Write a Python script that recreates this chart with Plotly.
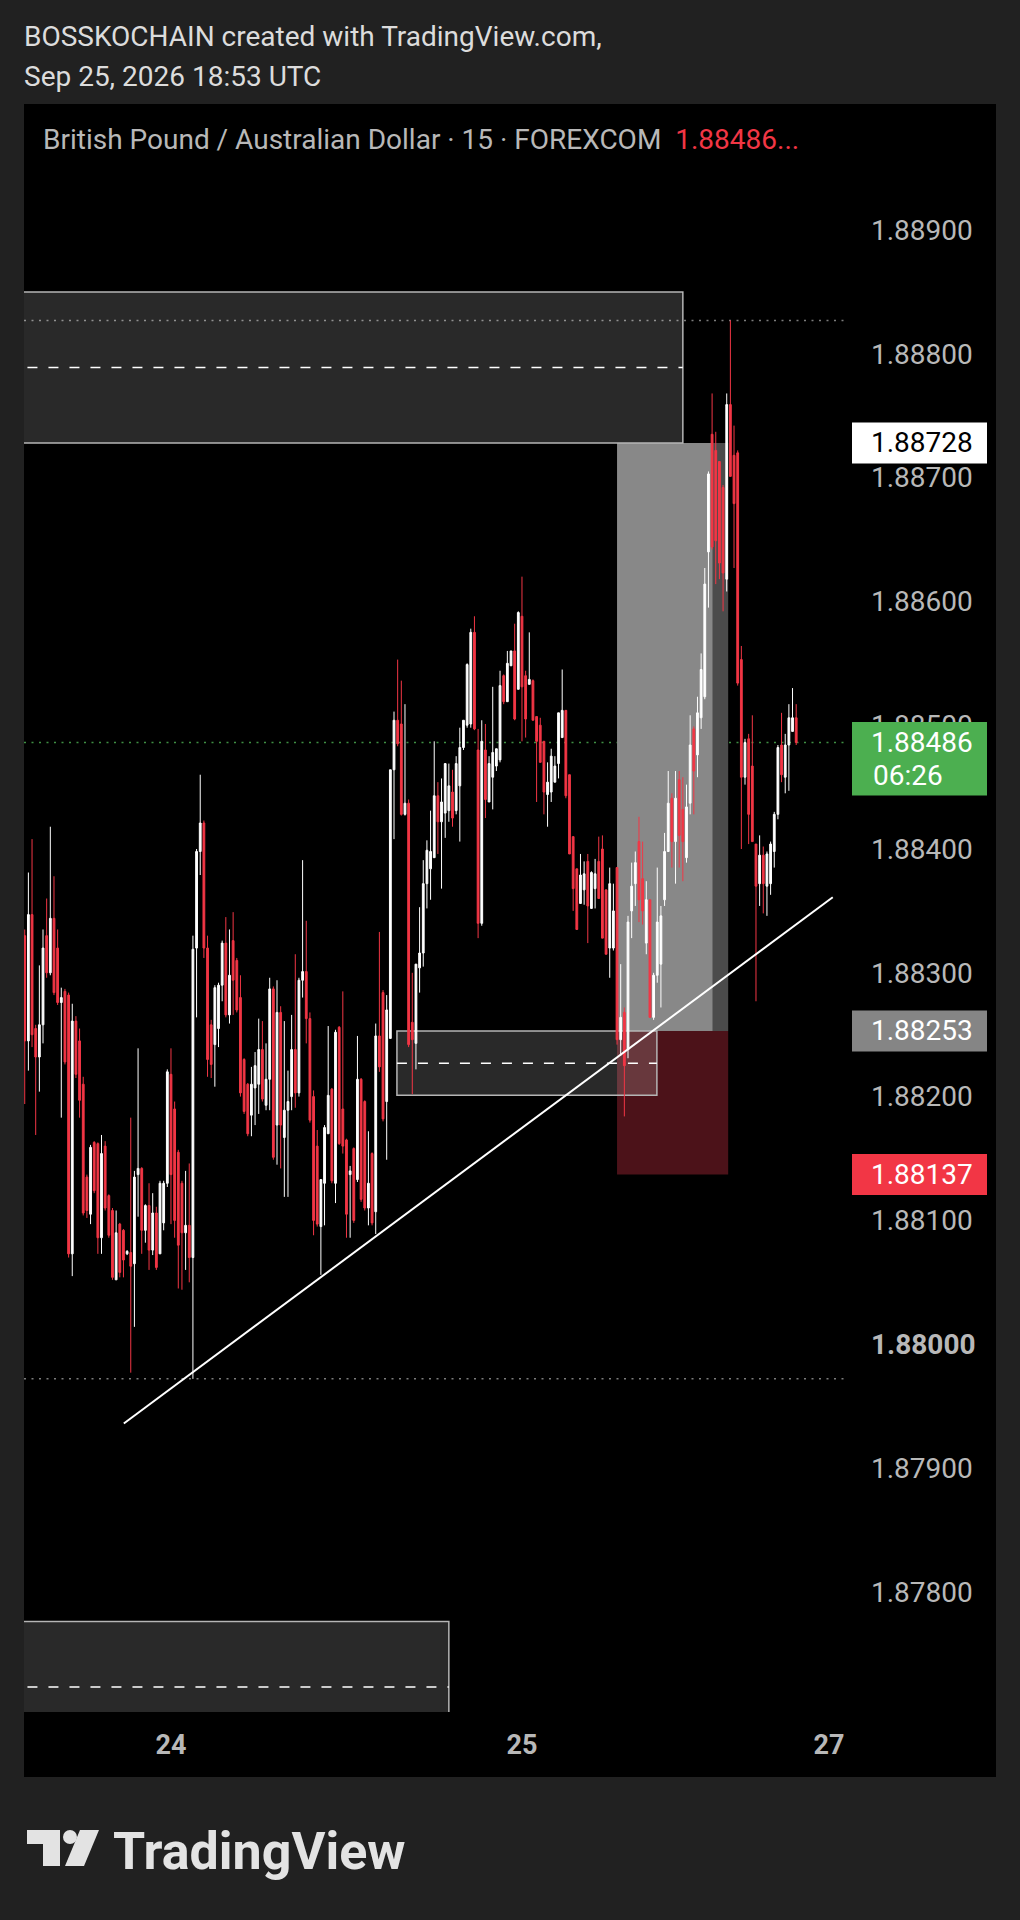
import plotly.graph_objects as go

# ---------------- data (GBP/AUD, 15-minute bars) ----------------
# bar number: 0 = Sep 24 00:00 UTC, 96 = Sep 25 00:00 UTC
bar_index = list(range(-40, 172))

open_prices = [
    1.88330,1.88245,1.88347,1.88255,1.88232,1.88258,1.88330,1.88300,1.88344,1.88320,
    1.88276,1.88285,1.88282,1.88073,1.88261,1.88245,1.88210,1.88135,1.88105,1.88163,
    1.88162,1.88086,1.88160,1.88120,1.88108,1.88052,1.88097,1.88092,1.88073,1.88074,
    1.88065,1.88137,1.88142,1.88092,1.88112,1.88076,1.88106,1.88073,1.88098,1.88130,
    1.88218,1.88190,1.88155,1.88130,1.88090,1.88096,1.88070,1.88320,1.88398,1.88421,
    1.88320,1.88258,1.88242,1.88255,1.88290,1.88324,1.88266,1.88326,1.88310,1.88280,
    1.88230,1.88210,1.88185,1.88207,1.88210,1.88238,1.88193,1.88214,1.88287,1.88177,
    1.88268,1.88167,1.88189,1.88200,1.88238,1.88203,1.88294,1.88301,1.88263,1.88200,
    1.88160,1.88095,1.88130,1.88170,1.88206,1.88130,1.88256,1.88190,1.88165,1.88137,
    1.88158,1.88133,1.88214,1.88196,1.88110,1.88154,1.88107,1.88249,1.88284,1.88196,
    1.88247,1.88464,1.88504,1.88501,1.88428,1.88437,1.88260,1.88243,1.88304,1.88316,
    1.88372,1.88384,1.88393,1.88443,1.88422,1.88429,1.88431,1.88446,1.88431,1.88451,
    1.88482,1.88500,1.88501,1.88575,1.88480,1.88340,1.88480,1.88438,1.88458,1.88467,
    1.88472,1.88540,1.88519,1.88548,1.88560,1.88529,1.88588,1.88540,1.88533,1.88536,
    1.88507,1.88500,1.88487,1.88444,1.88446,1.88454,1.88469,1.88490,1.88512,1.88460,
    1.88410,1.88384,1.88356,1.88367,1.88390,1.88352,1.88368,1.88390,1.88400,1.88367,
    1.88320,1.88320,1.88385,1.88246,1.88268,1.88238,1.88350,1.88372,1.88406,1.88376,
    1.88324,1.88359,1.88264,1.88298,1.88307,1.88359,1.88398,1.88441,1.88406,1.88456,
    1.88432,1.88393,1.88437,1.88497,1.88476,1.88506,1.88523,1.88640,1.88735,1.88722,
    1.88713,1.88692,1.88618,1.88759,1.88718,1.88720,1.88553,1.88458,1.88489,1.88467,
    1.88404,1.88372,1.88395,1.88370,1.88372,1.88398,1.88428,1.88484,1.88458,1.88484,
    1.88495,1.88506,
]
high_prices = [
    1.88335,1.88381,1.88408,1.88258,1.88306,1.88335,1.88360,1.88418,1.88378,1.88335,
    1.88288,1.88287,1.88284,1.88275,1.88265,1.88255,1.88216,1.88137,1.88161,1.88164,
    1.88163,1.88169,1.88164,1.88121,1.88110,1.88108,1.88098,1.88093,1.88076,1.88183,
    1.88140,1.88239,1.88143,1.88113,1.88130,1.88122,1.88111,1.88132,1.88132,1.88222,
    1.88239,1.88196,1.88157,1.88132,1.88140,1.88146,1.88330,1.88400,1.88460,1.88423,
    1.88330,1.88262,1.88290,1.88292,1.88326,1.88345,1.88335,1.88349,1.88312,1.88298,
    1.88231,1.88211,1.88224,1.88236,1.88263,1.88261,1.88243,1.88296,1.88289,1.88294,
    1.88273,1.88261,1.88221,1.88266,1.88315,1.88296,1.88391,1.88342,1.88268,1.88205,
    1.88173,1.88133,1.88177,1.88257,1.88207,1.88254,1.88257,1.88285,1.88166,1.88144,
    1.88159,1.88249,1.88215,1.88197,1.88172,1.88155,1.88259,1.88333,1.88286,1.88282,
    1.88464,1.88511,1.88553,1.88536,1.88517,1.88440,1.88300,1.88307,1.88353,1.88391,
    1.88407,1.88431,1.88487,1.88454,1.88457,1.88469,1.88469,1.88464,1.88475,1.88498,
    1.88504,1.88550,1.88578,1.88588,1.88497,1.88504,1.88501,1.88475,1.88531,1.88481,
    1.88544,1.88541,1.88560,1.88560,1.88582,1.88592,1.88620,1.88544,1.88575,1.88537,
    1.88507,1.88506,1.88487,1.88470,1.88481,1.88475,1.88510,1.88545,1.88512,1.88460,
    1.88410,1.88384,1.88396,1.88390,1.88396,1.88382,1.88392,1.88410,1.88411,1.88367,
    1.88385,1.88372,1.88385,1.88307,1.88272,1.88346,1.88389,1.88398,1.88426,1.88406,
    1.88374,1.88359,1.88300,1.88385,1.88354,1.88413,1.88463,1.88445,1.88463,1.88463,
    1.88458,1.88452,1.88508,1.88499,1.88523,1.88558,1.88627,1.88705,1.88768,1.88737,
    1.88713,1.88694,1.88768,1.88827,1.88742,1.88722,1.88564,1.88489,1.88493,1.88508,
    1.88404,1.88411,1.88402,1.88398,1.88406,1.88430,1.88484,1.88510,1.88493,1.88517,
    1.88530,1.88517,
]
low_prices = [
    1.88194,1.88221,1.88240,1.88169,1.88204,1.88243,1.88296,1.88298,1.88282,1.88274,
    1.88183,1.88226,1.88070,1.88055,1.88215,1.88183,1.88104,1.88102,1.88097,1.88122,
    1.88073,1.88073,1.88108,1.88086,1.88052,1.88052,1.88054,1.88054,1.88072,1.87977,
    1.88014,1.88103,1.88073,1.88082,1.88060,1.88072,1.88060,1.88073,1.88092,1.88127,
    1.88097,1.88086,1.88045,1.88044,1.88060,1.88050,1.87972,1.88264,1.88379,1.88312,
    1.88216,1.88215,1.88208,1.88240,1.88277,1.88264,1.88259,1.88266,1.88268,1.88200,
    1.88186,1.88168,1.88168,1.88177,1.88186,1.88196,1.88189,1.88189,1.88149,1.88145,
    1.88142,1.88119,1.88119,1.88189,1.88191,1.88200,1.88280,1.88243,1.88179,1.88088,
    1.88095,1.88056,1.88096,1.88170,1.88130,1.88114,1.88161,1.88154,1.88086,1.88086,
    1.88098,1.88131,1.88115,1.88108,1.88096,1.88096,1.88089,1.88220,1.88180,1.88149,
    1.88247,1.88408,1.88483,1.88427,1.88427,1.88240,1.88202,1.88222,1.88284,1.88305,
    1.88352,1.88359,1.88393,1.88396,1.88368,1.88409,1.88422,1.88418,1.88428,1.88406,
    1.88480,1.88498,1.88498,1.88496,1.88328,1.88338,1.88425,1.88438,1.88432,1.88463,
    1.88470,1.88517,1.88519,1.88548,1.88504,1.88529,1.88487,1.88490,1.88533,1.88504,
    1.88438,1.88470,1.88428,1.88418,1.88438,1.88454,1.88457,1.88490,1.88441,1.88396,
    1.88350,1.88335,1.88356,1.88355,1.88324,1.88352,1.88352,1.88360,1.88328,1.88315,
    1.88296,1.88318,1.88242,1.88233,1.88184,1.88231,1.88328,1.88354,1.88341,1.88339,
    1.88315,1.88264,1.88262,1.88292,1.88272,1.88354,1.88398,1.88385,1.88372,1.88385,
    1.88374,1.88389,1.88428,1.88428,1.88458,1.88497,1.88521,1.88595,1.88642,1.88614,
    1.88618,1.88592,1.88608,1.88701,1.88627,1.88532,1.88400,1.88452,1.88404,1.88406,
    1.88277,1.88354,1.88348,1.88346,1.88363,1.88385,1.88424,1.88454,1.88445,1.88447,
    1.88495,1.88484,
]
close_prices = [
    1.88245,1.88347,1.88250,1.88232,1.88258,1.88320,1.88300,1.88344,1.88284,1.88276,
    1.88280,1.88228,1.88073,1.88261,1.88218,1.88197,1.88106,1.88108,1.88159,1.88124,
    1.88086,1.88154,1.88110,1.88088,1.88054,1.88090,1.88058,1.88068,1.88075,1.88063,
    1.88135,1.88142,1.88092,1.88112,1.88076,1.88106,1.88062,1.88130,1.88130,1.88220,
    1.88137,1.88100,1.88080,1.88090,1.88096,1.88070,1.88319,1.88398,1.88421,1.88320,
    1.88230,1.88226,1.88288,1.88290,1.88324,1.88266,1.88298,1.88294,1.88270,1.88203,
    1.88188,1.88170,1.88210,1.88225,1.88238,1.88198,1.88214,1.88287,1.88151,1.88268,
    1.88177,1.88189,1.88196,1.88238,1.88203,1.88294,1.88301,1.88263,1.88181,1.88100,
    1.88097,1.88133,1.88175,1.88201,1.88132,1.88252,1.88162,1.88160,1.88105,1.88140,
    1.88100,1.88214,1.88117,1.88110,1.88130,1.88098,1.88249,1.88224,1.88182,1.88270,
    1.88464,1.88504,1.88485,1.88428,1.88437,1.88242,1.88246,1.88307,1.88316,1.88372,
    1.88399,1.88398,1.88443,1.88422,1.88438,1.88469,1.88451,1.88425,1.88469,1.88482,
    1.88504,1.88549,1.88575,1.88497,1.88340,1.88487,1.88440,1.88469,1.88478,1.88481,
    1.88532,1.88519,1.88550,1.88560,1.88505,1.88591,1.88531,1.88505,1.88537,1.88504,
    1.88487,1.88470,1.88446,1.88454,1.88475,1.88467,1.88510,1.88512,1.88443,1.88396,
    1.88368,1.88335,1.88379,1.88380,1.88354,1.88381,1.88380,1.88360,1.88328,1.88315,
    1.88372,1.88350,1.88246,1.88264,1.88225,1.88341,1.88370,1.88389,1.88359,1.88350,
    1.88359,1.88264,1.88298,1.88341,1.88346,1.88398,1.88437,1.88406,1.88441,1.88411,
    1.88406,1.88434,1.88484,1.88463,1.88510,1.88545,1.88614,1.88703,1.88644,1.88649,
    1.88631,1.88623,1.88759,1.88701,1.88679,1.88534,1.88458,1.88486,1.88428,1.88406,
    1.88370,1.88395,1.88372,1.88396,1.88404,1.88428,1.88482,1.88460,1.88484,1.88506,
    1.88506,1.88486,
]

time_tick_bars = [0, 96, 180]
time_tick_labels = ["24", "25", "27"]

price_ticks = [1.878, 1.879, 1.880, 1.881, 1.882, 1.883, 1.884, 1.885, 1.886, 1.887, 1.888, 1.889]
price_tick_labels = ["1.87800", "1.87900", "<b>1.88000</b>", "1.88100", "1.88200", "1.88300",
                     "1.88400", "1.88500", "1.88600", "1.88700", "1.88800", "1.88900"]

# drawings (bar number, price)
trend_bars = [-12.9, 181.0]
trend_prices = [1.87936, 1.88361]

upper_zone_bars = [-45, 140.0]
upper_zone_prices = [1.88728, 1.88850, 1.88789]      # bottom, top, midline
mid_zone_bars = [61.8, 132.9]
mid_zone_prices = [1.88201, 1.88253, 1.88227]
lower_zone_bars = [-45, 76.0]
lower_zone_prices = [1.87670, 1.87776, 1.87723]

position_bars = [122.0, 148.2, 152.4]                # start, target hit, end
position_entry, position_target, position_stop = 1.88253, 1.88728, 1.88137
countdown = "06:26"

# ---------------- styling ----------------
W, H = 1020, 1920
ML, MR, MT, MB = 24, 175, 104, 208
PW, PH = W - ML - MR, H - MT - MB
FONT = "Roboto"
UP, DOWN = "#ffffff", "#f23645"
BG = "#212121"


def px(x):
    return (x - ML) / PW


def py(y):
    return (H - MB - y) / PH


fig = go.Figure()
fig.add_trace(go.Candlestick(
    x=bar_index, open=open_prices, high=high_prices, low=low_prices, close=close_prices,
    increasing=dict(line=dict(color=UP, width=1), fillcolor=UP),
    decreasing=dict(line=dict(color=DOWN, width=1), fillcolor=DOWN),
    whiskerwidth=0, showlegend=False, hoverinfo="skip",
))

shapes = []
# chart panel
shapes.append(dict(type="rect", xref="paper", yref="paper", x0=px(24), x1=px(996),
                   y0=py(1777), y1=py(104), fillcolor="#000000", line=dict(width=0), layer="below"))
# long position tool
shapes.append(dict(type="rect", xref="x", yref="y", x0=position_bars[0], x1=position_bars[1],
                   y0=position_entry, y1=position_target, fillcolor="#888888", line=dict(width=0), layer="below"))
shapes.append(dict(type="rect", xref="x", yref="y", x0=position_bars[1], x1=position_bars[2],
                   y0=position_entry, y1=position_target, fillcolor="#4b4b4b", line=dict(width=0), layer="below"))
shapes.append(dict(type="rect", xref="x", yref="y", x0=position_bars[0], x1=position_bars[2],
                   y0=position_stop, y1=position_entry, fillcolor="#4c1219", line=dict(width=0), layer="below"))
# rectangles with dashed midline
for bars, prices in [(upper_zone_bars, upper_zone_prices), (mid_zone_bars, mid_zone_prices),
                     (lower_zone_bars, lower_zone_prices)]:
    shapes.append(dict(type="rect", xref="x", yref="y", x0=bars[0], x1=bars[1], y0=prices[0], y1=prices[1],
                       fillcolor="rgba(255,255,255,0.16)", line=dict(color="#b5b5b5", width=1.5), layer="below"))
    shapes.append(dict(type="line", xref="x", yref="y", x0=bars[0], x1=bars[1], y0=prices[2], y1=prices[2],
                       line=dict(color="#ffffff", width=1.5, dash="10px,11px"), layer="below"))
# high / low / last price lines
for level, col in [(max(high_prices), "#7c7c7c"), (min(low_prices), "#7c7c7c"), (close_prices[-1], "#3f8f43")]:
    shapes.append(dict(type="line", xref="x domain", yref="y", x0=0, x1=1, y0=level, y1=level,
                       line=dict(color=col, width=1.5, dash="2px,5.5px"), layer="below"))
# trend line
shapes.append(dict(type="line", xref="x", yref="y", x0=trend_bars[0], x1=trend_bars[1],
                   y0=trend_prices[0], y1=trend_prices[1], line=dict(color="#ffffff", width=2), layer="above"))

# price-axis labels
axis_labels = [
    (position_target, "#ffffff", "#000000", 20.5, -20.5),
    (close_prices[-1], "#4caf50", "#ffffff", 20.5, -53.0),
    (position_entry, "#858585", "#ffffff", 20.5, -20.5),
    (position_stop, "#f23645", "#ffffff", 20.5, -20.5),
]
annotations = []
for val, bg, fg, top, bot in axis_labels:
    shapes.append(dict(type="rect", xref="paper", yref="y", ysizemode="pixel", yanchor=val,
                       x0=px(852), x1=px(987), y0=bot, y1=top, fillcolor=bg, line=dict(width=0), layer="above"))
    annotations.append(dict(text=f"{val:.5f}", xref="paper", yref="y", x=px(975), y=val,
                            xanchor="right", yanchor="middle", showarrow=False,
                            font=dict(family=FONT, size=28, color=fg)))
annotations.append(dict(text=countdown, xref="paper", yref="y", x=px(871), y=close_prices[-1], yshift=-33,
                        xanchor="left", yanchor="middle", showarrow=False,
                        font=dict(family=FONT, size=28, color="#ffffff")))

# header texts
annotations.append(dict(text="BOSSKOCHAIN created with TradingView.com,", xref="paper", yref="paper",
                        x=px(22), y=py(37), xanchor="left", yanchor="middle", showarrow=False,
                        font=dict(family=FONT, size=28, color="#dcdcdc")))
annotations.append(dict(text="Sep 25, 2026 18:53 UTC", xref="paper", yref="paper",
                        x=px(22), y=py(77), xanchor="left", yanchor="middle", showarrow=False,
                        font=dict(family=FONT, size=28, color="#dcdcdc")))
annotations.append(dict(
    text=("British Pound / Australian Dollar · 15 · FOREXCOM  "
          f"<span style='color:#f23645'>{close_prices[-1]:.5f}...</span>"),
    xref="paper", yref="paper", x=px(41), y=py(139), xanchor="left", yanchor="middle", showarrow=False,
    font=dict(family=FONT, size=28, color="#b8b8b8")))

# TradingView logo
LOGO = "#e3e3e3"
shapes.append(dict(type="rect", xref="paper", yref="paper", x0=px(27), x1=px(60), y0=py(1844), y1=py(1830),
                   fillcolor=LOGO, line=dict(width=0), layer="above"))
shapes.append(dict(type="rect", xref="paper", yref="paper", x0=px(43), x1=px(60), y0=py(1866), y1=py(1830),
                   fillcolor=LOGO, line=dict(width=0), layer="above"))
shapes.append(dict(type="circle", xref="paper", yref="paper", x0=px(63), x1=px(77), y0=py(1844), y1=py(1830),
                   fillcolor=LOGO, line=dict(width=0), layer="above"))
shapes.append(dict(type="path", xref="paper", yref="paper",
                   path=(f"M {px(80)},{py(1830)} L {px(99)},{py(1830)} "
                         f"L {px(84)},{py(1866)} L {px(65)},{py(1866)} Z"),
                   fillcolor=LOGO, line=dict(width=0), layer="above"))
annotations.append(dict(text="<b>TradingView</b>", xref="paper", yref="paper", x=px(111), y=py(1851),
                        xanchor="left", yanchor="middle", showarrow=False,
                        font=dict(family=FONT, size=52, color=LOGO)))

fig.update_layout(
    width=W, height=H,
    margin=dict(l=ML, r=MR, t=MT, b=MB, pad=0),
    paper_bgcolor=BG, plot_bgcolor="#000000",
    showlegend=False,
    boxgap=0.3,
    xaxis=dict(range=[-40.2, 184.35], rangeslider=dict(visible=False), showgrid=False, zeroline=False,
               showline=False, ticks="", tickvals=time_tick_bars, ticktext=time_tick_labels,
               tickfont=dict(family=FONT, size=27, color="#b8b8b8", weight=700), ticklabelstandoff=14,
               fixedrange=True),
    yaxis=dict(range=[1.877029, 1.890018], side="right", showgrid=False, zeroline=False, showline=False,
               ticks="", tickvals=price_ticks, ticktext=price_tick_labels,
               tickfont=dict(family=FONT, size=28, color="#b8b8b8"), ticklabelstandoff=25,
               fixedrange=True),
    shapes=shapes,
    annotations=annotations,
)

fig.write_html("out.html", config={"displayModeBar": False},
               post_script="document.body.style.margin='0';document.body.style.background='#212121';")
